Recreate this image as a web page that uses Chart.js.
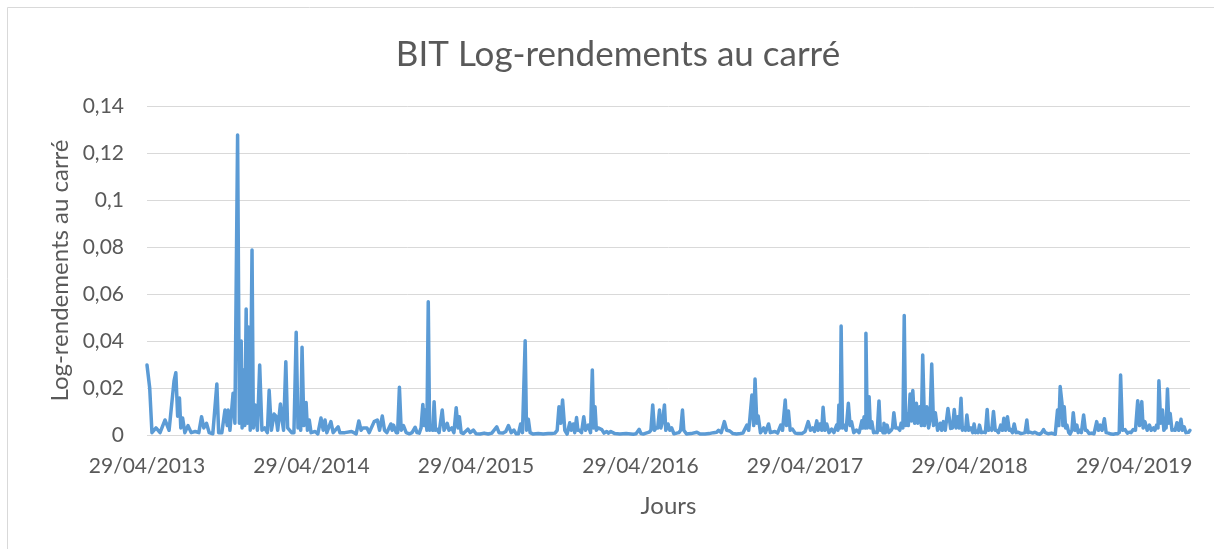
<!DOCTYPE html>
<html lang="fr">
<head>
<meta charset="utf-8">
<title>BIT Log-rendements au carré</title>
<script src="https://cdn.jsdelivr.net/npm/chart.js@4"></script>
<style>
  html, body { margin: 0; padding: 0; background: #fff; }
  #wrap { width: 1214px; height: 549px; }
</style>
</head>
<body>
<div id="wrap"><canvas id="chart" width="1214" height="549"></canvas></div>
<script>
// jours depuis le 29/04/2013 et valeurs
const jours = [
  0, 6, 11, 20, 29, 40, 49, 60, 64, 68, 72, 75, 79, 84, 91, 98, 107, 115, 121, 126,
  132, 138, 146, 155, 159, 166, 173, 178, 180, 184, 191, 195, 201, 205, 209, 211, 214, 217, 220, 223,
  225, 229, 233, 236, 240, 245, 250, 255, 261, 267, 271, 276, 282, 286, 290, 296, 300, 303, 308, 312,
  321, 326, 331, 335, 337, 341, 344, 348, 353, 356, 360, 364, 373, 379, 386, 391, 395, 399, 408, 413,
  424, 428, 439, 454, 464, 470, 475, 479, 488, 493, 504, 511, 516, 522, 527, 532, 541, 544, 547, 553,
  556, 560, 564, 569, 575, 582, 588, 595, 599, 604, 608, 612, 615, 617, 621, 624, 627, 630, 634, 637,
  640, 643, 648, 655, 659, 666, 670, 676, 681, 686, 690, 693, 697, 702, 712, 717, 724, 730, 739, 748,
  757, 765, 776, 781, 790, 796, 802, 808, 814, 819, 824, 829, 833, 839, 842, 846, 850, 857, 868, 879,
  890, 898, 905, 910, 914, 918, 922, 927, 932, 938, 941, 946, 949, 953, 956, 959, 964, 969, 973, 979,
  984, 988, 991, 994, 997, 1001, 1009, 1014, 1020, 1024, 1029, 1038, 1049, 1063, 1079, 1085, 1092, 1096, 1101, 1107,
  1114, 1118, 1122, 1126, 1129, 1133, 1137, 1140, 1144, 1148, 1151, 1156, 1160, 1164, 1169, 1175, 1180, 1184, 1188, 1191,
  1197, 1207, 1220, 1227, 1238, 1247, 1257, 1264, 1268, 1274, 1281, 1286, 1293, 1300, 1308, 1316, 1322, 1331, 1335, 1338,
  1342, 1346, 1349, 1353, 1356, 1361, 1368, 1372, 1379, 1383, 1393, 1399, 1406, 1410, 1416, 1419, 1423, 1427, 1432, 1438,
  1444, 1453, 1460, 1467, 1472, 1477, 1481, 1486, 1489, 1493, 1497, 1500, 1504, 1508, 1513, 1519, 1524, 1530, 1533, 1535,
  1538, 1540, 1543, 1546, 1551, 1556, 1560, 1563, 1568, 1574, 1580, 1586, 1588, 1591, 1593, 1595, 1598, 1602, 1605, 1608,
  1612, 1615, 1620, 1624, 1627, 1630, 1633, 1635, 1638, 1642, 1646, 1651, 1654, 1657, 1661, 1666, 1670, 1673, 1677, 1680,
  1683, 1686, 1689, 1693, 1696, 1699, 1703, 1707, 1710, 1714, 1718, 1721, 1725, 1730, 1734, 1737, 1741, 1745, 1749, 1754,
  1760, 1763, 1767, 1771, 1777, 1783, 1787, 1791, 1795, 1799, 1802, 1806, 1809, 1813, 1816, 1819, 1823, 1828, 1832, 1835,
  1838, 1841, 1844, 1847, 1851, 1856, 1860, 1864, 1867, 1871, 1874, 1878, 1882, 1885, 1889, 1894, 1898, 1901, 1905, 1909,
  1913, 1916, 1920, 1924, 1928, 1933, 1939, 1944, 1948, 1952, 1955, 1959, 1965, 1970, 1976, 1981, 1985, 1989, 1993, 2000,
  2007, 2015, 2020, 2023, 2026, 2030, 2032, 2035, 2038, 2041, 2045, 2048, 2052, 2055, 2059, 2063, 2066, 2069, 2073, 2078,
  2082, 2085, 2090, 2096, 2101, 2107, 2111, 2115, 2119, 2124, 2128, 2133, 2139, 2144, 2149, 2153, 2157, 2160, 2164, 2170,
  2175, 2179, 2183, 2188, 2193, 2198, 2202, 2207, 2210, 2214, 2219, 2224, 2228, 2233, 2236, 2240, 2243, 2245, 2249, 2253,
  2256, 2259, 2261, 2264, 2267, 2270, 2274, 2277, 2281, 2285, 2289, 2294, 2297, 2301, 2305, 2311, 2314
];

const logRendementsCarre = [
  .0298, .020, .001, .003, .001, .0064, .002, .023, .0265, .008, .0157, .003, .0072, .001, .004, .001, .0015, .001, .0078, .003,
  .005, .001, .0005, .0217, .001, .001, .0106, .004, .0106, .002, .0178, .005, .1277, .005, .040, .003, .0277, .004, .0536, .005,
  .046, .002, .0787, .003, .0128, .002, .0298, .002, .003, .001, .019, .002, .0089, .008, .002, .0132, .006, .002, .0312, .003,
  .001, .001, .0437, .003, .0085, .002, .0373, .004, .0138, .002, .0064, .001, .0015, .0005, .0072, .002, .0064, .001, .0057, .001,
  .0035, .001, .001, .0015, .0005, .006, .002, .003, .003, .001, .0057, .0064, .002, .0081, .002, .001, .0047, .002, .0042, .001,
  .001, .0203, .002, .004, .001, .0005, .001, .0033, .001, .0008, .003, .013, .004, .0106, .002, .0567, .002, .004, .002, .0142,
  .002, .0025, .001, .0106, .002, .005, .002, .003, .001, .0116, .003, .0078, .001, .0006, .0025, .001, .0021, .0005, .0004, .0008,
  .0004, .0008, .0035, .001, .0008, .0015, .004, .001, .0021, .0005, .0005, .0047, .001, .0401, .002, .0067, .001, .0004, .0006, .0004,
  .0006, .0006, .0008, .002, .012, .005, .0149, .002, .0004, .0052, .002, .0047, .001, .0074, .002, .0021, .001, .0078, .002, .0042,
  .001, .0277, .003, .012, .002, .003, .0023, .0008, .0015, .0008, .0015, .0006, .0004, .0006, .0003, .0005, .0024, .0006, .0004, .0008,
  .0012, .002, .0128, .002, .003, .003, .0106, .003, .006, .0128, .002, .0047, .002, .003, .0005, .0008, .001, .002, .0106, .002,
  .0004, .0006, .0012, .0004, .0004, .0006, .001, .0012, .002, .001, .0057, .002, .0017, .0006, .0004, .0006, .0008, .0042, .002, .008,
  .017, .004, .0238, .005, .0081, .001, .003, .001, .0047, .001, .0015, .0008, .0042, .002, .0149, .004, .0102, .002, .0025, .0008,
  .0006, .0006, .0015, .0057, .002, .003, .0015, .006, .002, .0047, .002, .0118, .002, .0047, .001, .0025, .001, .0042, .002, .0128,
  .003, .0464, .003, .0042, .002, .0135, .004, .0057, .001, .0021, .001, .006, .003, .0078, .003, .0433, .003, .0163, .003, .0057,
  .001, .0012, .001, .0145, .002, .0028, .001, .005, .001, .0042, .001, .002, .003, .0095, .003, .003, .002, .005, .003, .0508,
  .004, .0092, .004, .0174, .006, .0189, .005, .0135, .005, .012, .004, .034, .004, .012, .003, .006, .0302, .004, .0095, .002,
  .005, .002, .0057, .002, .0113, .0028, .003, .0109, .003, .0078, .003, .0156, .002, .003, .002, .0085, .002, .003, .001, .0047,
  .001, .0015, .001, .0042, .001, .0012, .001, .0109, .002, .0028, .002, .010, .002, .002, .001, .0042, .002, .0071, .002, .0078,
  .002, .0023, .001, .0047, .001, .0012, .0006, .0008, .001, .0064, .001, .0012, .0008, .0012, .0005, .0003, .001, .0023, .001, .0005,
  .0008, .0003, .0106, .004, .0206, .0135, .004, .012, .003, .0042, .001, .0004, .002, .0095, .002, .0042, .001, .002, .001, .0085,
  .002, .002, .0006, .0008, .0005, .0057, .002, .0042, .002, .0069, .001, .0008, .0004, .0003, .0005, .0005, .001, .0255, .002, .0023,
  .0008, .0012, .001, .0023, .002, .0146, .004, .0142, .003, .0057, .002, .0042, .002, .003, .002, .0042, .003, .0231, .005, .0106,
  .002, .003, .003, .0196, .005, .0092, .002, .0023, .002, .0052, .002, .0067, .002, .0035, .001, .0012, .002
];

const joursEtiquettes = [0, 365, 730, 1095, 1460, 1825, 2190];
const etiquettesDates = ["29/04/2013", "29/04/2014", "29/04/2015", "29/04/2016", "29/04/2017", "29/04/2018", "29/04/2019"];
const dernierJour = 2314;

const gris = '#595959';
const police = "Lato, 'Open Sans', sans-serif";

const points = jours.map((j, i) => ({ x: j, y: logRendementsCarre[i] }));

// cadre gris clair du graphique (seuls les bords haut et gauche sont visibles)
const cadre = {
  id: 'cadre',
  beforeDraw(chart) {
    const ctx = chart.ctx;
    ctx.save();
    ctx.fillStyle = '#fff';
    ctx.fillRect(0, 0, chart.width, chart.height);
    ctx.strokeStyle = '#D9D9D9';
    ctx.lineWidth = 1;
    ctx.beginPath();
    ctx.moveTo(7.5, chart.height + 2);
    ctx.lineTo(7.5, 7.5);
    ctx.lineTo(chart.width + 2, 7.5);
    ctx.stroke();
    ctx.restore();
  }
};

new Chart(document.getElementById('chart').getContext('2d'), {
  type: 'line',
  data: {
    datasets: [{
      label: 'BIT',
      data: points,
      borderColor: '#5B9BD5',
      borderWidth: 3.5,
      pointRadius: 0,
      tension: 0,
      fill: false,
      clip: 6,
      borderJoinStyle: 'round',
      borderCapStyle: 'round'
    }]
  },
  options: {
    responsive: false,
    animation: false,
    layout: { padding: { left: 46, right: 24, top: 0, bottom: 0 } },
    plugins: {
      legend: { display: false },
      tooltip: { enabled: false },
      title: {
        display: true,
        text: 'BIT Log-rendements au carré',
        color: gris,
        font: { family: police, size: 35, weight: 'normal' },
        padding: { top: 34, bottom: 30 }
      }
    },
    scales: {
      x: {
        type: 'linear',
        min: 0,
        max: dernierJour,
        grid: { display: false, drawTicks: false },
        border: { display: false },
        afterBuildTicks: (scale) => {
          scale.ticks = joursEtiquettes.map(v => ({ value: v }));
        },
        afterFit: (scale) => { scale.height = 114; },
        ticks: {
          autoSkip: false,
          maxRotation: 0,
          padding: 19,
          color: gris,
          font: { family: police, size: 21 },
          callback: (v) => etiquettesDates[joursEtiquettes.indexOf(v)]
        },
        title: {
          display: true,
          text: 'Jours',
          color: gris,
          font: { family: police, size: 24 },
          padding: { top: 0, bottom: 28 }
        }
      },
      y: {
        min: 0,
        max: 0.14,
        grid: { color: '#D9D9D9', lineWidth: 1, drawTicks: false },
        border: { display: false },
        afterFit: (scale) => { scale.width = 101; },
        ticks: {
          stepSize: 0.02,
          padding: 23,
          color: gris,
          font: { family: police, size: 21 },
          callback: (v) => String(Math.round(v * 100) / 100).replace('.', ',')
        },
        title: {
          display: true,
          text: 'Log-rendements au carré',
          color: gris,
          font: { family: police, size: 24 },
          padding: { top: 0, bottom: 0 }
        }
      }
    }
  },
  plugins: [cadre]
});
</script>
</body>
</html>
